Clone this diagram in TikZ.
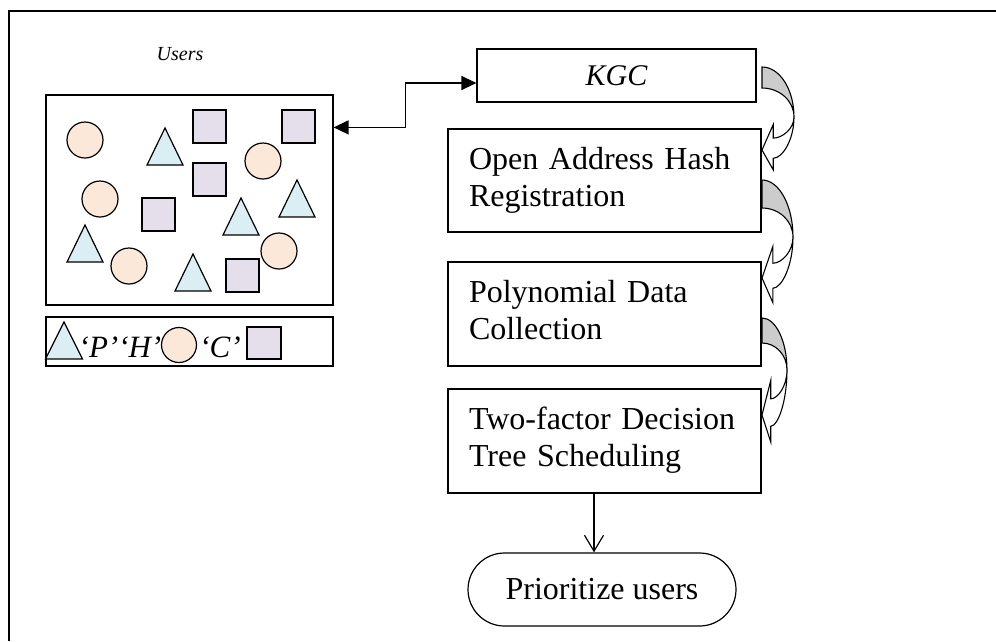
\documentclass[tikz,border=0pt]{standalone}
\usepackage{fontspec}
\setmainfont{Liberation Serif}
\usepackage{tikz}
\usetikzlibrary{arrows.meta}
\definecolor{peach}{HTML}{FCE8D9}
\definecolor{iceblue}{HTML}{DAEEF3}
\definecolor{lilac}{HTML}{E4DFEB}
% twisted block arrow on the right: centre y, x radius, outer and inner y radius, drop of the tip
\newcommand{\twistarrow}[5]{%
  \pgfmathsetmacro{\rimx}{762+#2}%
  \pgfmathsetmacro{\ahx}{762+0.35*#2}%
  \pgfmathsetmacro{\bendx}{762+0.64*#2}%
  \pgfmathsetmacro{\topx}{762+0.552*#2}%
  \draw[backface] (762,{#1-#3}) .. controls (\topx,{#1-#3}) and (\rimx,{#1-0.552*#3}) .. (\rimx,#1)
    .. controls (\rimx,{#1-0.552*#4}) and (\topx,{#1-#4}) .. (762,{#1-#4}) -- cycle;
  \draw[frontface] (\rimx,#1) .. controls (\rimx,{#1+0.69*#5}) and (\bendx,{#1+1.25*#5}) .. (\ahx,{#1+1.25*#5})
    -- (\ahx,{#1+1.6*#5}) -- (762,{#1+#5}) -- (\ahx,{#1+0.23*#5}) -- (\ahx,{#1+0.64*#5})
    .. controls (\bendx,{#1+0.64*#5}) and (\rimx,{#1+0.35*#5}) .. (\rimx,#1) -- cycle;
}

\begin{document}
\begin{tikzpicture}[
  x=1pt, y=-1pt,
  line width=1.2pt,
  stage/.style={draw, align=left, text width=271pt, inner xsep=21pt, inner ysep=0pt,
    minimum height=104pt, font=\fontsize{32}{37}\selectfont,
    execute at begin node=\strut, execute at end node=\strut},
  panel/.style={draw, minimum width=287pt, inner sep=0pt},
  legendtext/.style={inner sep=0pt, font=\fontsize{31}{34}\selectfont\itshape},
  peachdot/.style={draw, fill=peach},
  icetri/.style={draw, fill=iceblue, line join=miter},
  lilacsq/.style={draw, fill=lilac},
  backface/.style={draw, fill=gray!40, line width=1.1pt},
  frontface/.style={draw, fill=white, line width=1.1pt, line join=miter},
  biarrow/.style={{Triangle[length=15pt,width=14pt]}-{Triangle[length=15pt,width=14pt]}, line width=1.3pt},
  downarrow/.style={-{Straight Barb[length=16pt,width=19pt]}, line width=1.2pt}
]
\useasboundingbox (0,0) rectangle (996,641);
\draw[line width=1.8pt] (996,11) -- (9,11) -- (9,641);

% users side
\node[font=\fontsize{20}{24}\selectfont\itshape] (userslabel) at (180,54) {Users};
\node[panel, minimum height=210pt] (users) at (189.5,200) {};
\foreach \x/\y in {85/140, 263/161, 100/199, 129/266, 279/251}
  \draw[peachdot] (\x,\y) circle[radius=18pt];
\foreach \x/\y in {193/110, 282/110, 193/163, 142/198, 226/259}
  \draw[lilacsq] (\x,\y) rectangle ++(33,33);
\foreach \x/\y in {165/128, 297/180, 85/225, 241/198, 193/254}
  \draw[icetri] (\x,\y) -- ++(18,37) -- ++(-36,0) -- cycle;

% legend
\node[panel, minimum height=49pt] (legend) at (189.5,341.5) {};
\draw[icetri] (64,322) -- ++(18.5,37) -- ++(-37,0) -- cycle;
\node[legendtext, anchor=base] (ph) at (120,357) {‘P’‘H’};
\draw[peachdot] (179,345) circle[radius=17.5pt];
\node[legendtext, anchor=base] (cc) at (220,357) {‘C’};
\draw[lilacsq] (247,327) rectangle (281,359);

% pipeline
\node[draw, minimum width=279pt, minimum height=53pt, inner sep=0pt,
  font=\fontsize{30}{34}\selectfont\itshape] (kgc) at (616.5,75.5) {KGC};
\node[stage, minimum height=103pt] (hash) at (604.5,180.5) {Open Address Hash\\Registration};
\node[stage] (poly) at (604.5,314) {Polynomial Data\\Collection};
\node[stage] (tree) at (604.5,441) {Two-factor Decision\\Tree Scheduling};
\node[draw, minimum width=268pt, minimum height=73pt, rounded corners=36.5pt, inner sep=0pt,
  font=\fontsize{32}{37}\selectfont] (prior) at (602,589.5) {Prioritize users};

\draw[biarrow] ([yshift=-33pt]users.north east) -- ++(72,0) |- ([yshift=-7.5pt]kgc.west);
\draw[downarrow] ([xshift=-10.5pt]tree.south) -- ([xshift=-10.5pt]tree.south |- prior.north);

\twistarrow{117}{32}{50}{29}{33}
\twistarrow{237}{31}{57}{29}{41}
\twistarrow{370}{25}{52}{27}{45}
\end{tikzpicture}
\end{document}
